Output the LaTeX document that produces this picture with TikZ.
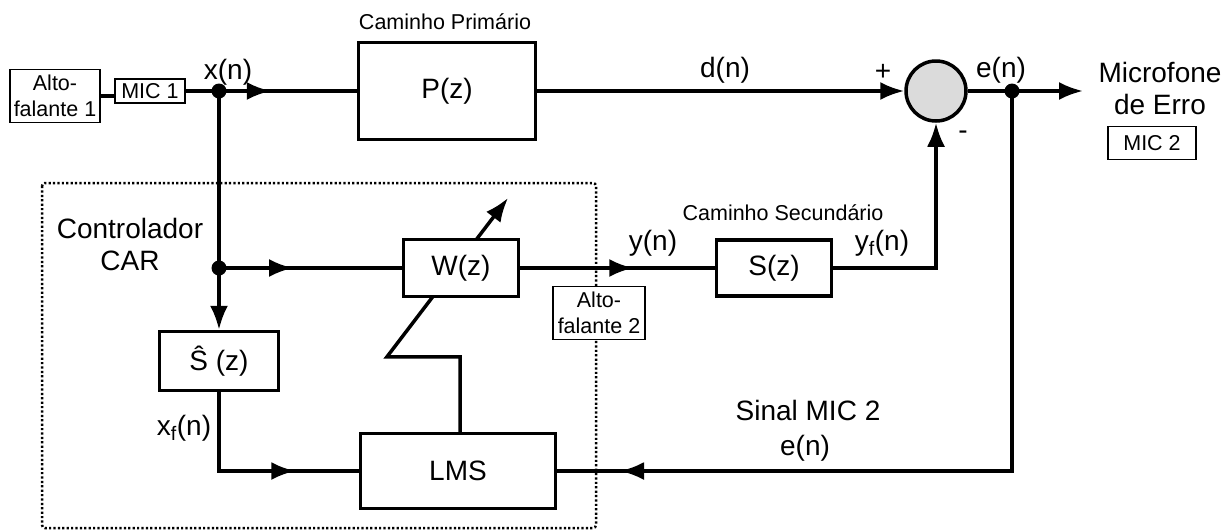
\documentclass[tikz,border=0pt]{standalone}
\usepackage{fontspec}
\setmainfont{Liberation Sans}
\usetikzlibrary{arrows.meta,decorations.markings}
\definecolor{sumgray}{rgb}{0.86,0.86,0.86}
\tikzstyle{block}=[draw,line width=3.5pt,fill=white,inner sep=0pt,font=\fontsize{28}{32}\selectfont]
\tikzstyle{tag}=[draw,line width=1.5pt,fill=white,inner sep=2pt,align=center,font=\fontsize{21.5}{26}\selectfont]
\tikzstyle{sig}=[inner sep=0pt,align=center,font=\fontsize{28}{32}\selectfont]
\tikzstyle{note}=[inner sep=0pt,font=\fontsize{21.5}{25}\selectfont]
\tikzstyle{dot}=[circle,fill,inner sep=0pt,minimum size=15pt]
\tikzstyle{wire}=[line width=3.5pt]
\tikzset{arrowat/.style={postaction={decorate},decoration={markings,mark=at position #1 with {\arrow{>}}}}}

\begin{document}
\begin{tikzpicture}[x=1pt,y=-1pt,>={Latex[length=24pt,width=18pt]}]
	\useasboundingbox (0,0) rectangle (1231,531);
	% controlador (pontilhado)
	\draw[line width=2.5pt,dash pattern=on 2.2pt off 2.2pt,rounded corners=3pt] (42,183) rectangle (596,528);
	\node[sig] (car) at (130,244) {Controlador\\CAR};
	% blocos
	\node[tag,minimum width=90pt,minimum height=53pt] (alto1) at (55,96) {Alto-\\falante 1};
	\node[tag,minimum width=70pt,minimum height=24pt] (mic1) at (150,91) {MIC 1};
	\node[block,minimum width=177pt,minimum height=97pt] (P) at (447,91) {P(z)};
	\node[note] (cp) at (445,22) {Caminho Primário};
	\node[circle,draw,line width=3.5pt,fill=sumgray,minimum size=60pt,inner sep=0pt] (sum) at (936,91) {};
	\node[block,minimum width=195pt,minimum height=75pt] (LMS) at (458,471) {LMS};
	\coordinate (adapt) at (508,198);
	\draw[wire,->] ([xshift=2pt]LMS.north) -- ++(0,-75) -- ++(-73,0) -- (adapt);
	\node[block,minimum width=115pt,minimum height=57pt] (W) at (461,268) {W(z)};
	\node[block,minimum width=115pt,minimum height=56pt] (S) at (774,268) {S(z)};
	\node[note] (cs) at (783,213) {Caminho Secundário};
	\node[block,minimum width=119pt,minimum height=59pt] (Shat) at (219,361) {Ŝ (z)};
	\node[tag,minimum width=92pt,minimum height=53pt] (alto2) at (599,313) {Alto-\\falante 2};
	\node[tag,minimum width=88pt,minimum height=33pt] (mic2) at (1152,143) {MIC 2};
	\node[sig] (mife) at (1160,88) {Microfone\\de Erro};
	% pontos de derivacao
	\node[dot] (xn) at (219,91) {};
	\node[dot] (br) at (219,268) {};
	\node[dot] (en) at (1012,91) {};
	\coordinate (out) at (1083,91);
	% ligacoes
	\draw[wire] (alto1.east) -- (alto1.east -| mic1.west);
	\draw[wire,arrowat=85pt] (mic1.east) -- (P.west);
	\draw[wire,->] (P.east) -- (sum.west);
	\draw[wire,->] (sum.east) -- (out);
	\draw[wire,->] (xn.center) -- (Shat.north);
	\draw[wire,arrowat=74pt] (br.center) -- (W.west);
	\draw[wire,arrowat=113pt] (W.east) -- (S.west);
	\draw[wire,->] (S.east) -| (sum.south);
	\draw[wire,arrowat=155pt] (Shat.south) |- (LMS.west);
	\draw[wire,arrowat=772pt] (en.center) |- (LMS.east);
	% rotulos
	\node[sig] (lxn) at (228,72) {x(n)};
	\node[sig] (ldn) at (725,70) {d(n)};
	\node[sig] (lplus) at (883,72) {+};
	\node[sig] (lminus) at (963,135) {-};
	\node[sig] (len) at (1001,70) {e(n)};
	\node[sig] (lyn) at (653,243) {y(n)};
	\node[sig] (lyf) at (882,243) {y\textsubscript{f}(n)};
	\node[sig] (lxf) at (184,428) {x\textsubscript{f}(n)};
	\node[sig] (sinal) at (808,410) {Sinal MIC 2};
	\node[sig] (len2) at (805,448) {e(n)};
\end{tikzpicture}
\end{document}
